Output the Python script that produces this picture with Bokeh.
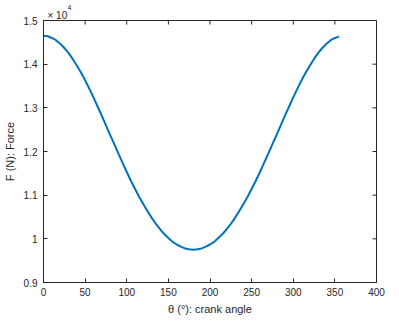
import math
from bokeh.plotting import figure
from bokeh.models import FixedTicker, Range1d, Title
from bokeh.embed import file_html
from bokeh.resources import INLINE

# crank angle (deg) and force (x 1e4 N)
theta = [0, 5, 10, 15, 20, 25, 30, 35, 40, 45, 50, 55, 60, 65, 70, 75, 80, 85, 90,
         95, 100, 105, 110, 115, 120, 125, 130, 135, 140, 145, 150, 155, 160, 165, 170, 175,
         180, 185, 190, 195, 200, 205, 210, 215, 220, 225, 230, 235, 240, 245, 250, 255,
         260, 265, 270, 275, 280, 285, 290, 295, 300, 305, 310, 315, 320, 325, 330, 335,
         340, 345, 350, 355]
force = [1.465, 1.464, 1.460, 1.455, 1.447, 1.437, 1.426, 1.412, 1.397, 1.381, 1.363,
         1.344, 1.324, 1.303, 1.282, 1.260, 1.238, 1.217, 1.195,
         1.174, 1.153, 1.133, 1.114, 1.096, 1.079, 1.063, 1.048, 1.034, 1.022, 1.011,
         1.002, 0.993, 0.987, 0.982, 0.978, 0.976,
         0.975, 0.976, 0.978, 0.982, 0.987, 0.993, 1.002, 1.011, 1.022, 1.034, 1.048,
         1.063, 1.079, 1.096, 1.114, 1.133, 1.153, 1.174, 1.195, 1.217, 1.238, 1.260,
         1.282, 1.303, 1.324, 1.344, 1.363, 1.381, 1.397, 1.412, 1.426, 1.437, 1.447,
         1.455, 1.460, 1.463]

x_ticks = [0, 50, 100, 150, 200, 250, 300, 350, 400]
y_ticks = [0.9, 1.0, 1.1, 1.2, 1.3, 1.4, 1.5]
x_lo, x_hi = 0, 400
y_lo, y_hi = 0.9, 1.5

FONT = "Liberation Sans"
AX = "#262626"

p = figure(frame_width=333, frame_height=262, output_backend="svg", toolbar_location=None,
           x_range=Range1d(x_lo, x_hi), y_range=Range1d(y_lo, y_hi),
           min_border_left=43, min_border_right=15, min_border_top=20, min_border_bottom=34,
           x_axis_label="θ (°): crank angle", y_axis_label="F (N): Force")
p.grid.visible = False
p.outline_line_color = AX
p.outline_line_width = 1

# exponent marker "× 10^4" above the top-left corner
t_base = Title(text="× 10", text_font=FONT, text_font_size="10px", text_font_style="normal",
               text_color=AX, align="left", offset=4, standoff=0)
t_exp = Title(text="4", text_font=FONT, text_font_size="7px", text_font_style="normal",
              text_color=AX, align="left", offset=24, standoff=-4)
p.add_layout(t_base, "above")
p.add_layout(t_exp, "above")

p.line(theta, force, line_color="#0072BD", line_width=2)

for ax in p.xaxis + p.yaxis:
    ax.axis_line_color = AX
    ax.major_tick_line_color = AX
    ax.major_tick_in = 4
    ax.major_tick_out = 0
    ax.minor_tick_line_color = None
    ax.major_label_text_font = FONT
    ax.major_label_text_font_size = "10px"
    ax.major_label_text_color = AX
    ax.axis_label_text_font = FONT
    ax.axis_label_text_font_size = "11px"
    ax.axis_label_text_font_style = "normal"
    ax.axis_label_text_color = AX

p.yaxis.major_label_standoff = 6
p.yaxis.axis_label_standoff = 5
p.xaxis.major_label_standoff = 5
p.xaxis.axis_label_standoff = 4

p.xaxis.ticker = FixedTicker(ticks=x_ticks)
p.yaxis.ticker = FixedTicker(ticks=y_ticks)
p.yaxis.major_label_overrides = {1: "1"}

# inward ticks on the top and right edges of the box
p.ray(x=x_ticks, y=[y_hi] * len(x_ticks), length=4, length_units="screen",
      angle=-math.pi / 2, line_color=AX, line_width=1)
p.ray(x=[x_hi] * len(y_ticks), y=y_ticks, length=4, length_units="screen",
      angle=math.pi, line_color=AX, line_width=1)

open("out.html", "w").write(file_html(p, INLINE))
